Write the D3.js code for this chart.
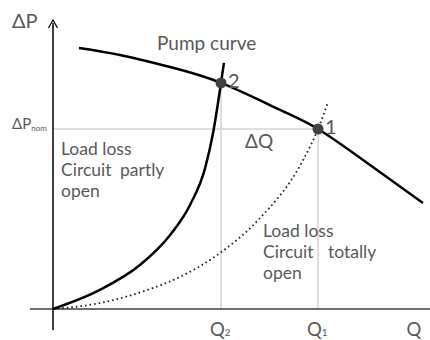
<!DOCTYPE html>
<html>
<head>
<meta charset="utf-8">
<script src="https://cdn.jsdelivr.net/npm/d3@7"></script>
<style>
  html, body { margin: 0; padding: 0; background: #fff; }
  svg { display: block; }
  text { font-family: Lato, "Open Sans", sans-serif; fill: #595959; }
</style>
</head>
<body>
<svg id="chart" width="430" height="340"></svg>
<script>
// Pump characteristic (flow Q, head ΔP)
const pumpQ  = [9.8, 25.3, 44.2, 63.4, 85.7, 100, 117, 139.6];
const pumpDP = [145, 141.1, 134.4, 125.6, 110.6, 100, 82.8, 58.9];

// Circuit load loss, valve partly open
const partlyQ  = [0, 17.7, 32.8, 44.2, 51.7, 57.4, 60.4, 63.4, 64.5];
const partlyDP = [0, 10.6, 24.4, 41.1, 57.8, 78.3, 97.8, 125.6, 136.7];

// Circuit load loss, valve totally open
const totalQ  = [0, 17.7, 36.6, 47.9, 63, 77.4, 94, 100, 103.8];
const totalDP = [0, 3.3, 11.1, 17.8, 31.1, 49.4, 81.7, 100, 115];

// Operating points: 1 = nominal, 2 = partly open
const opNames = ["1", "2"];
const opQ  = [100, 63.4];
const opDP = [100, 125.6];

const svg = d3.select("#chart");

const x = d3.scaleLinear().domain([0, 100]).range([53, 318]);
const y = d3.scaleLinear().domain([0, 100]).range([309, 129]);

const line = d3.line().x(d => x(d[0])).y(d => y(d[1])).curve(d3.curveMonotoneX);
const zip = (a, b) => a.map((v, i) => [v, b[i]]);

// Guide lines to the operating points
const grid = svg.append("g").attr("stroke", "#d4d4d4").attr("stroke-width", 1.5);
grid.append("line")
  .attr("x1", x(0)).attr("x2", x(opQ[0]))
  .attr("y1", y(opDP[0])).attr("y2", y(opDP[0]));
opQ.forEach((q, i) => {
  grid.append("line")
    .attr("x1", x(q)).attr("x2", x(q))
    .attr("y1", y(opDP[i])).attr("y2", y(0));
});

// Axes
svg.append("line")
  .attr("x1", 30).attr("x2", 430)
  .attr("y1", y(0)).attr("y2", y(0))
  .attr("stroke", "#404040").attr("stroke-width", 1.5);
svg.append("line")
  .attr("x1", x(0)).attr("x2", x(0))
  .attr("y1", 23).attr("y2", 330)
  .attr("stroke", "#000").attr("stroke-width", 1.5);
svg.append("path")
  .attr("d", `M${x(0) - 4.5},28 L${x(0)},20 L${x(0) + 4.5},28`)
  .attr("fill", "none").attr("stroke", "#000").attr("stroke-width", 1.2);

// Curves
svg.append("path")
  .attr("d", line(zip(totalQ, totalDP)))
  .attr("fill", "none").attr("stroke", "#222").attr("stroke-width", 1.8)
  .attr("stroke-dasharray", "1.6,3");
svg.append("path")
  .attr("d", line(zip(partlyQ, partlyDP)))
  .attr("fill", "none").attr("stroke", "#000").attr("stroke-width", 2.5);
svg.append("path")
  .attr("d", d3.line().x(d => x(d[0])).y(d => y(d[1])).curve(d3.curveNatural)(zip(pumpQ, pumpDP)))
  .attr("fill", "none").attr("stroke", "#000").attr("stroke-width", 2.5);

// Operating points
svg.selectAll("circle.op").data(opQ).join("circle")
  .attr("class", "op")
  .attr("cx", d => x(d)).attr("cy", (d, i) => y(opDP[i]))
  .attr("r", 5.5).attr("fill", "#404040");
svg.selectAll("text.op").data(opNames).join("text")
  .attr("class", "op")
  .attr("x", (d, i) => x(opQ[i]) + 7).attr("y", (d, i) => y(opDP[i]) + 5)
  .attr("font-size", 20).text(d => d);

// Axis titles
svg.append("text").attr("x", 12).attr("y", 28).attr("font-size", 20).text("ΔP");
const nom = svg.append("text").attr("x", 12).attr("y", 129).attr("font-size", 15);
nom.append("tspan").text("ΔP");
nom.append("tspan").attr("font-size", 8).attr("dy", 2).text("nom");

// Flow tick labels
const qLabels = [["Q", "2"], ["Q", "1"], ["Q", ""]];
const qPos = [opQ[1], opQ[0], 137.5];
qLabels.forEach((lab, i) => {
  const t = svg.append("text").attr("x", x(qPos[i]) - 11).attr("y", 336).attr("font-size", 18.5);
  t.append("tspan").text(lab[0]);
  if (lab[1]) t.append("tspan").attr("font-size", 10).attr("dy", 0).text(lab[1]);
});

// Annotations
svg.append("text").attr("x", 157).attr("y", 50).attr("font-size", 19).text("Pump curve");
svg.append("text").attr("x", 245).attr("y", 148).attr("font-size", 19).text("ΔQ");

const partly = svg.append("g").attr("font-size", 17.5);
partly.append("text").attr("x", 61).attr("y", 155).text("Load loss");
partly.append("text").attr("x", 61).attr("y", 176).text("Circuit");
partly.append("text").attr("x", 120).attr("y", 176).text("partly");
partly.append("text").attr("x", 61).attr("y", 197).text("open");

const total = svg.append("g").attr("font-size", 17.5);
total.append("text").attr("x", 263).attr("y", 237).text("Load loss");
total.append("text").attr("x", 263).attr("y", 258).text("Circuit");
total.append("text").attr("x", 328).attr("y", 258).text("totally");
total.append("text").attr("x", 263).attr("y", 279).text("open");
</script>
</body>
</html>
